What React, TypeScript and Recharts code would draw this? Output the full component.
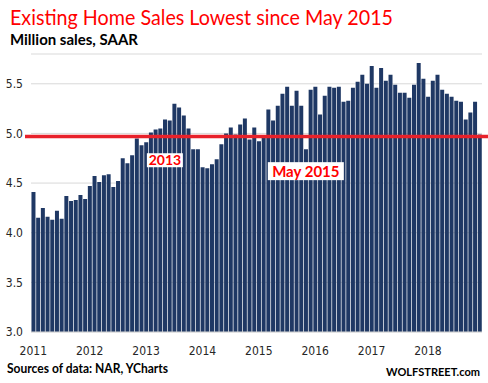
import React from 'react'
import { Bar, BarChart, CartesianGrid, ReferenceDot, ReferenceLine, XAxis, YAxis } from 'recharts'

const years = ['2011', '2012', '2013', '2014', '2015', '2016', '2017', '2018']

// monthly existing home sales, million, SAAR
const sales2011 = [4.41, 4.15, 4.25, 4.16, 4.13, 4.22, 4.14, 4.37, 4.32, 4.33, 4.38, 4.34]
const sales2012 = [4.47, 4.57, 4.51, 4.58, 4.59, 4.46, 4.52, 4.75, 4.7, 4.78, 4.95, 4.88]
const sales2013 = [4.91, 5.01, 5.04, 5.05, 5.14, 5.13, 5.3, 5.26, 5.18, 5.05, 4.84, 4.84]
const sales2014 = [4.66, 4.65, 4.69, 4.74, 4.89, 5.0, 5.06, 4.99, 5.09, 5.15, 4.94, 5.06]
const sales2015 = [4.92, 4.97, 5.24, 5.13, 5.28, 5.4, 5.47, 5.28, 5.43, 5.28, 4.84, 5.44]
const sales2016 = [5.47, 5.19, 5.38, 5.47, 5.46, 5.47, 5.32, 5.33, 5.46, 5.52, 5.59, 5.5]
const sales2017 = [5.68, 5.46, 5.66, 5.53, 5.59, 5.49, 5.41, 5.41, 5.36, 5.49, 5.71, 5.55]
const sales2018 = [5.37, 5.53, 5.59, 5.44, 5.4, 5.37, 5.33, 5.32, 5.14, 5.21, 5.32, 4.99]

const salesByYear = [sales2011, sales2012, sales2013, sales2014, sales2015, sales2016, sales2017, sales2018]

const yTicks = [3, 3.5, 4, 4.5, 5, 5.5]
const lowLevel = 4.97

const data = years.flatMap((yr, i) =>
  salesByYear[i].map((v, m) => ({ month: `${yr}-${String(m + 1).padStart(2, '0')}`, sales: v }))
)

const RED = '#ff0000'
const tickFont = { fontFamily: '"DejaVu Sans Condensed", "DejaVu Sans", sans-serif', fontSize: 12, fill: '#262626' }

const Tag = (text: string, w: number, h: number, size: number) => (p: any) => (
  <g>
    <rect x={p.cx - w / 2} y={p.cy - h / 2} width={w} height={h} fill="#fff" />
    <text
      x={p.cx}
      y={p.cy + size * 0.36}
      textAnchor="middle"
      fill={RED}
      fontFamily="Lato, 'Open Sans', sans-serif"
      fontWeight="bold"
      fontSize={size}
    >
      {text}
    </text>
  </g>
)

const App = () => {
  return (
    <div style={{ position: 'fixed', left: 0, top: 0, width: 488, height: 383, background: '#fff' }}>
      <BarChart width={488} height={383} data={data} margin={{ top: 54, right: 6, left: 0, bottom: 21 }} barCategoryGap="10%">
        <CartesianGrid vertical={false} stroke="#d9d9d9" />
        <XAxis
          dataKey="month"
          interval={11}
          tickFormatter={(v: string) => v.slice(0, 4)}
          tickLine={false}
          axisLine={{ stroke: '#d9d9d9' }}
          tickMargin={8}
          height={30}
          tick={tickFont}
        />
        <YAxis
          domain={[3, 5.8]}
          ticks={yTicks}
          tickFormatter={(v: number) => v.toFixed(1)}
          tickLine={false}
          axisLine={false}
          width={31}
          tick={tickFont}
          allowDataOverflow
        />
        <Bar dataKey="sales" fill="#1f3864" isAnimationActive={false} />
        <ReferenceLine
          y={lowLevel}
          shape={(p: any) => (
            <line x1={p.x1 - 6} x2={p.x2 + 6} y1={p.y1} y2={p.y2} stroke="#e8212a" strokeWidth={3.5} />
          )}
        />
        <ReferenceDot x="2013-05" y={4.73} shape={Tag('2013', 36, 14, 14)} />
        <ReferenceDot x="2015-11" y={4.62} shape={Tag('May 2015', 76, 18, 15)} />
      </BarChart>
      <svg width={488} height={383} style={{ position: 'absolute', left: 0, top: 0, pointerEvents: 'none' }}>
        <text x={10} y={25} fill={RED} fontFamily="Lato, 'Open Sans', sans-serif" fontSize={21} textLength={383} lengthAdjust="spacingAndGlyphs">
          Existing Home Sales Lowest since May 2015
        </text>
        <text x={10} y={45} fill="#000" fontFamily="Lato, 'Open Sans', sans-serif" fontWeight="bold" fontSize={14.5} textLength={128} lengthAdjust="spacingAndGlyphs">
          Million sales, SAAR
        </text>
        <text x={7} y={373} fill="#000" fontFamily="Lato, 'Open Sans', sans-serif" fontWeight="bold" fontSize={13.5} textLength={161} lengthAdjust="spacingAndGlyphs">
          Sources of data: NAR, YCharts
        </text>
        <text x={386} y={376} fill="#000" fontFamily="Lato, 'Open Sans', sans-serif" fontWeight="bold" fontSize={12} textLength={94} lengthAdjust="spacingAndGlyphs">
          WOLFSTREET.com
        </text>
      </svg>
    </div>
  )
}

export default App
